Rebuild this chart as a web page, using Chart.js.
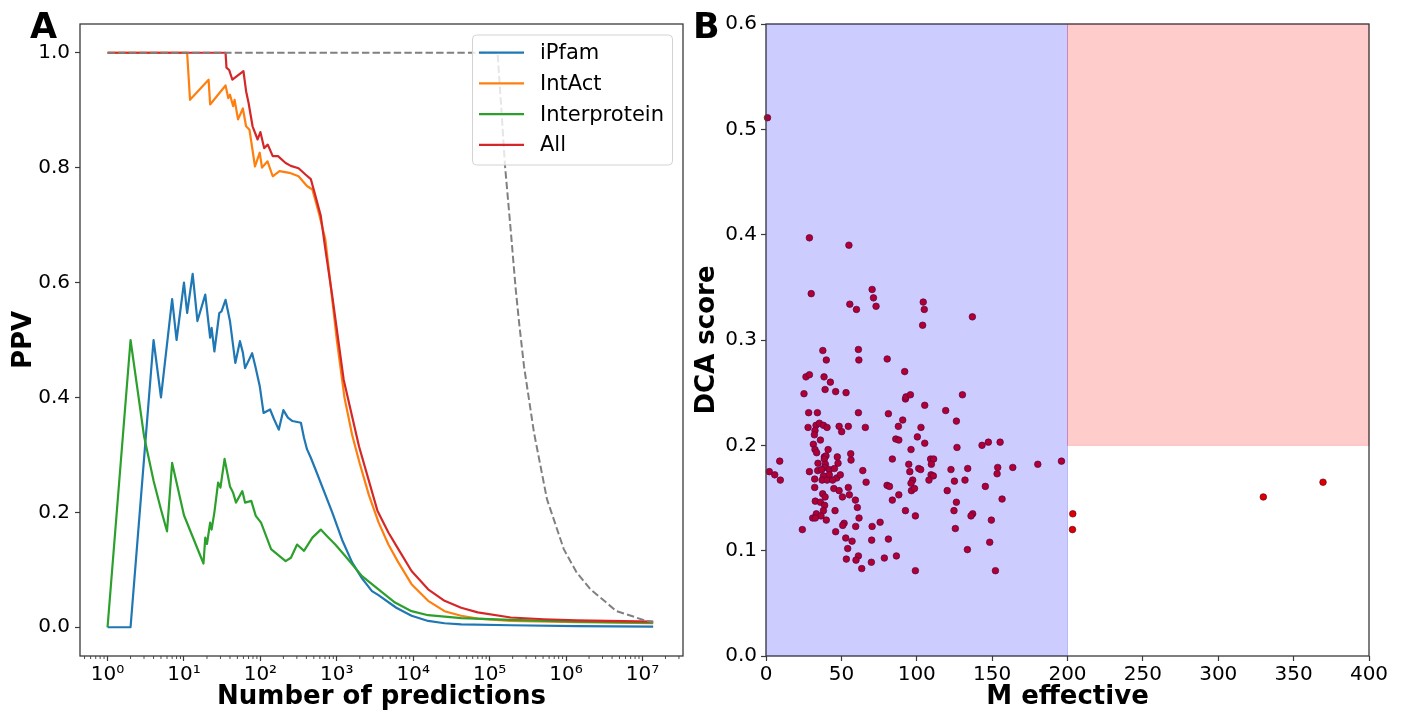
<!DOCTYPE html>
<html>
<head>
<meta charset="utf-8">
<script src="https://cdn.jsdelivr.net/npm/chart.js@4.4.1/dist/chart.umd.min.js"></script>
<style>
  html, body { margin: 0; padding: 0; background: #fff; }
  body { width: 1405px; height: 713px; position: relative; overflow: hidden; }
  #ppv { position: absolute; left: 0; top: 0; }
  #dca { position: absolute; left: 660px; top: 0; }
</style>
</head>
<body>
<canvas id="ppv" width="700" height="713"></canvas>
<canvas id="dca" width="745" height="713"></canvas>
<script>
/* ---------- panel A data: PPV vs number of predictions ---------- */
const seriesLabels = ["iPfam", "IntAct", "Interprotein", "All"];
const seriesColors = ["#1f77b4", "#ff7f0e", "#2ca02c", "#d62728"];

const ipfamN   = [1, 2, 4, 5, 7, 8, 10, 11, 13, 15, 19, 22, 23, 25, 29, 31, 35, 40, 47, 54,
                  59, 63, 78, 86, 98, 110, 134, 151, 174, 200, 229, 263, 339, 372, 407, 457, 525, 871, 1175, 1585,
                  2138, 2884, 3508, 6000, 9506, 15670, 25700, 42400, 189000, 1380000, 13800000];
const ipfamPPV = [0, 0, 0.50, 0.40, 0.571, 0.50, 0.60, 0.547, 0.615, 0.533, 0.579, 0.504, 0.521, 0.48, 0.547, 0.55, 0.57, 0.533, 0.46, 0.498,
                  0.478, 0.451, 0.477, 0.454, 0.42, 0.373, 0.379, 0.362, 0.344, 0.378, 0.365, 0.359, 0.356, 0.33, 0.31, 0.295, 0.275, 0.20, 0.152, 0.113,
                  0.085, 0.063, 0.056, 0.034, 0.02, 0.011, 0.007, 0.005, 0.0035, 0.002, 0.001];

const intactN   = [1, 11, 12, 21, 22, 35, 38, 40, 44, 46, 51, 59, 65, 72, 85, 98, 105, 124, 145, 178,
                   240, 316, 407, 479, 582, 708, 832, 1000, 1259, 1585, 1995, 2630, 3508, 4732, 6383, 9506, 15670, 25700, 42400, 69800,
                   189000, 1380000, 13800000];
const intactPPV = [1.0, 1.0, 0.918, 0.953, 0.91, 0.943, 0.921, 0.927, 0.907, 0.918, 0.884, 0.903, 0.872, 0.866, 0.802, 0.826, 0.80, 0.811, 0.785, 0.794,
                   0.791, 0.785, 0.768, 0.762, 0.721, 0.675, 0.594, 0.50, 0.40, 0.335, 0.285, 0.23, 0.183, 0.144, 0.113, 0.075, 0.046, 0.028, 0.02, 0.015,
                   0.011, 0.009, 0.007];

const interN   = [1, 2, 3, 4, 5, 6, 7, 10, 18, 19, 20, 22, 23, 25, 28, 30, 34, 40, 44, 48,
                  58, 63, 76, 87, 102, 138, 178, 214, 251, 302, 372, 479, 617, 741, 955, 1288, 2138, 3508, 5780, 9506,
                  15670, 42400, 189000, 1380000, 13800000];
const interPPV = [0, 0.50, 0.333, 0.255, 0.205, 0.167, 0.286, 0.195, 0.111, 0.156, 0.145, 0.182, 0.17, 0.20, 0.252, 0.243, 0.293, 0.245, 0.234, 0.217,
                  0.237, 0.217, 0.22, 0.194, 0.182, 0.136, 0.124, 0.115, 0.121, 0.144, 0.133, 0.156, 0.17, 0.159, 0.144, 0.124, 0.089, 0.066, 0.043, 0.028,
                  0.021, 0.016, 0.013, 0.010, 0.008];

const allN   = [1, 35, 36, 39, 43, 60, 65, 70, 79, 92, 100, 112, 125, 145, 170, 214, 250, 316, 389, 457,
                525, 617, 708, 871, 1230, 1950, 3400, 4732, 6383, 9506, 15670, 25700, 42400, 69800, 189000, 513000, 1380000, 13800000];
const allPPV = [1.0, 1.0, 0.974, 0.97, 0.953, 0.968, 0.933, 0.913, 0.872, 0.849, 0.862, 0.834, 0.84, 0.82, 0.82, 0.808, 0.803, 0.799, 0.788, 0.78,
                0.751, 0.716, 0.658, 0.577, 0.431, 0.315, 0.203, 0.165, 0.136, 0.098, 0.066, 0.046, 0.034, 0.026, 0.017, 0.014, 0.012, 0.010];

// grey dashed reference curve
const randomN   = [1, 127000, 141000, 158500, 189000, 218800, 243000, 281800, 380200, 562300, 933300, 1380000, 2090000, 3160000,
                   4570000, 7080000, 11200000, 13800000];
const randomPPV = [1.0, 1.0, 0.91, 0.805, 0.69, 0.59, 0.53, 0.454, 0.339, 0.223, 0.136, 0.095, 0.066, 0.046,
                   0.028, 0.02, 0.011, 0.009];

const ppvTicks = [0.0, 0.2, 0.4, 0.6, 0.8, 1.0];
const predExponents = [0, 1, 2, 3, 4, 5, 6, 7];

/* ---------- panel B data: DCA score vs M effective ---------- */
const mEff = [
  1, 28.8, 55, 30, 70.4, 71.3, 73, 55.6, 60, 104.3, 105, 103.9, 136.9, 37.7, 40, 61.3, 61.6, 80.4,
  26.5, 28.8, 38.5, 42.7, 25.2, 39.2, 46.2, 53.1, 92, 92.5, 92.9, 95.8, 28.3, 34.1, 61.3, 81.2, 90.7, 33.2, 35.4, 38.1,
  40.5, 27.9, 32.5, 32.1, 48.5, 50.2, 54.6, 65.9, 87.8, 86.1, 88.1, 36.1, 31.4, 32.5, 33.6, 41.2, 56.2, 47.3, 38.7, 39.8,
  38.7, 39.4, 56.4, 47.8, 34.5, 9.1, 96.2, 83.8, 94.7, 38.9, 42, 45.4, 28.8, 34.3, 36.9, 2.2, 5.8, 9.5, 38.1, 42,
  46.9, 49.3, 32.3, 37.2, 40.5, 44.2, 64.2, 66.4, 95.4, 97.3, 96.2, 32.3, 54.6, 80.3, 81.9,
  45, 48.5, 96.5, 98.5,
  37.6, 39.2, 50.7, 55.3, 59.3, 32.7, 36.1, 38.9, 38.1, 60.6, 45.8, 33.4, 36.5, 31, 32.7, 40, 61.7, 51.8, 50.9, 59.5,
  70.4, 75.7, 24.1, 46.2, 52.9, 57.1, 70.1, 81.2, 54.2, 61.3, 53.3, 59.7, 69.9, 78.5, 86.5, 63.5, 83.8, 88.1, 92.5, 99.1, 99.1,
  130.3, 105.3, 119.2, 126.3, 102.8, 100.4, 105.3, 126.7, 143.3, 147.5, 155.3, 109.2, 111.2, 109.7, 101.3, 102.6, 122.7, 133.8, 153.7, 163.7,
  180.3, 109.5, 111, 108.1, 125, 132, 153.3, 145.5, 120.2,
  126.3, 156.6, 124.7, 137.1, 136, 149.5, 125.6, 148.4, 133.6, 152.2,
  196, 203.5, 203.3, 329.9, 369.5
];
const dcaScore = [
  0.511, 0.397, 0.39, 0.344, 0.348, 0.34, 0.332, 0.334, 0.329, 0.336, 0.329, 0.314, 0.322, 0.29, 0.281, 0.291, 0.281, 0.282,
  0.265, 0.267, 0.265, 0.26, 0.249, 0.253, 0.251, 0.25, 0.27, 0.244, 0.246, 0.248, 0.231, 0.231, 0.231, 0.23, 0.224, 0.219, 0.221, 0.219,
  0.217, 0.217, 0.214, 0.21, 0.218, 0.213, 0.218, 0.217, 0.218, 0.206, 0.205, 0.205, 0.201, 0.196, 0.193, 0.196, 0.192, 0.189, 0.189, 0.19,
  0.187, 0.182, 0.186, 0.183, 0.183, 0.185, 0.196, 0.187, 0.182, 0.179, 0.177, 0.178, 0.175, 0.176, 0.177, 0.175, 0.172, 0.167, 0.171, 0.172,
  0.169, 0.172, 0.168, 0.167, 0.167, 0.167, 0.176, 0.165, 0.175, 0.167, 0.164, 0.16, 0.16, 0.162, 0.161,
  0.159, 0.157, 0.157, 0.159,
  0.154, 0.151, 0.151, 0.153, 0.148, 0.147, 0.146, 0.143, 0.138, 0.141, 0.138, 0.135, 0.133, 0.131, 0.131, 0.129, 0.131, 0.126, 0.124, 0.123,
  0.123, 0.127, 0.12, 0.118, 0.112, 0.109, 0.11, 0.111, 0.102, 0.095, 0.092, 0.091, 0.089, 0.093, 0.095, 0.083, 0.148, 0.153, 0.138, 0.133, 0.081,
  0.248, 0.238, 0.233, 0.223, 0.217, 0.208, 0.202, 0.198, 0.2, 0.203, 0.203, 0.187, 0.187, 0.182, 0.178, 0.177, 0.177, 0.178, 0.179, 0.179,
  0.182, 0.172, 0.171, 0.167, 0.166, 0.167, 0.173, 0.161, 0.157,
  0.146, 0.149, 0.138, 0.135, 0.133, 0.129, 0.121, 0.108, 0.101, 0.081,
  0.185, 0.135, 0.12, 0.151, 0.165
];
const mEffTicks = [0, 50, 100, 150, 200, 250, 300, 350, 400];
const dcaTicks  = [0.0, 0.1, 0.2, 0.3, 0.4, 0.5, 0.6];
// shaded regions: [xFrom, xTo, yFrom, yTo]
const blueSpan = [0, 200, 0, 0.6];
const redSpan  = [200, 400, 0.2, 0.6];

/* ---------- shared style ---------- */
const FONT = "'DejaVu Sans'";
const axisColor = "#3a3a3a";
Chart.defaults.font.family = FONT;
Chart.defaults.color = "#000";

const SUP = { "0": "\u2070", "1": "\u00b9", "2": "\u00b2", "3": "\u00b3", "4": "\u2074",
              "5": "\u2075", "6": "\u2076", "7": "\u2077", "8": "\u2078", "9": "\u2079" };

function toPoints(xs, ys) {
  return xs.map((x, i) => ({ x: x, y: ys[i] }));
}

/* ---------- plugins ---------- */
const framePlugin = {
  id: "frame",
  afterDraw(chart) {
    const a = chart.chartArea, ctx = chart.ctx;
    ctx.save();
    ctx.strokeStyle = axisColor;
    ctx.lineWidth = 1.3;
    ctx.strokeRect(a.left, a.top, a.right - a.left, a.bottom - a.top);
    ctx.restore();
  }
};

const minorTickPlugin = {
  id: "minorTicks",
  afterDraw(chart) {
    const sx = chart.scales.x, ctx = chart.ctx, bottom = chart.chartArea.bottom;
    ctx.save();
    ctx.strokeStyle = axisColor;
    ctx.lineWidth = 0.9;
    sx.ticks.forEach(t => {
      if (t.major) return;
      const px = sx.getPixelForValue(t.value);
      ctx.beginPath();
      ctx.moveTo(px, bottom);
      ctx.lineTo(px, bottom + 3);
      ctx.stroke();
    });
    ctx.restore();
  }
};

function panelLetter(letter, x, y) {
  return {
    id: "letter" + letter,
    afterDraw(chart) {
      const ctx = chart.ctx;
      ctx.save();
      ctx.font = "bold 35px " + FONT;
      ctx.fillStyle = "#000";
      ctx.textBaseline = "alphabetic";
      ctx.fillText(letter, x, y);
      ctx.restore();
    }
  };
}

const legendPlugin = {
  id: "boxLegend",
  afterDraw(chart) {
    const ctx = chart.ctx;
    const bx = 472.5, by = 35, bw = 200, bh = 130;
    ctx.save();
    ctx.beginPath();
    ctx.roundRect(bx, by, bw, bh, 4);
    ctx.fillStyle = "rgba(255,255,255,0.8)";
    ctx.fill();
    ctx.strokeStyle = "#d3d3d3";
    ctx.lineWidth = 1;
    ctx.stroke();
    ctx.font = "21px " + FONT;
    ctx.textBaseline = "middle";
    ctx.fillStyle = "#000";
    seriesLabels.forEach((lab, i) => {
      const yy = 52.7 + i * 30.7;
      ctx.strokeStyle = seriesColors[i];
      ctx.lineWidth = 2.2;
      ctx.beginPath();
      ctx.moveTo(479, yy);
      ctx.lineTo(524, yy);
      ctx.stroke();
      ctx.fillText(lab, 540, yy + 1);
    });
    ctx.restore();
  }
};

const spanPlugin = {
  id: "spans",
  afterDatasetsDraw(chart) {
    const sx = chart.scales.x, sy = chart.scales.y, ctx = chart.ctx;
    const draw = (s, fill, edge) => {
      const x0 = sx.getPixelForValue(s[0]), x1 = sx.getPixelForValue(s[1]);
      const y0 = sy.getPixelForValue(s[3]), y1 = sy.getPixelForValue(s[2]);
      ctx.fillStyle = fill;
      ctx.fillRect(x0, y0, x1 - x0, y1 - y0);
      ctx.strokeStyle = edge;
      ctx.lineWidth = 1;
      ctx.strokeRect(x0, y0, x1 - x0, y1 - y0);
    };
    ctx.save();
    draw(blueSpan, "rgba(0,0,255,0.2)", "rgba(0,0,255,0.2)");
    draw(redSpan, "rgba(255,0,0,0.2)", "rgba(255,0,0,0.2)");
    ctx.restore();
  }
};

/* ---------- panel A ---------- */
function lineSet(label, xs, ys, color, order) {
  return {
    label: label,
    data: toPoints(xs, ys),
    borderColor: color,
    borderWidth: 2.2,
    pointRadius: 0,
    tension: 0,
    fill: false,
    borderJoinStyle: "round",
    order: order
  };
}

new Chart(document.getElementById("ppv"), {
  type: "line",
  data: {
    datasets: [
      Object.assign(lineSet("random", randomN, randomPPV, "#808080", 0), { borderDash: [7.4, 3.2], borderWidth: 2 }),
      lineSet(seriesLabels[0], ipfamN, ipfamPPV, seriesColors[0], 4),
      lineSet(seriesLabels[1], intactN, intactPPV, seriesColors[1], 3),
      lineSet(seriesLabels[2], interN, interPPV, seriesColors[2], 2),
      lineSet(seriesLabels[3], allN, allPPV, seriesColors[3], 1)
    ]
  },
  options: {
    responsive: false,
    animation: false,
    layout: { padding: { top: 24, right: 17, left: 0, bottom: 0 } },
    plugins: { legend: { display: false }, tooltip: { enabled: false } },
    scales: {
      x: {
        type: "logarithmic",
        min: 0.436,
        max: 3.39e7,
        afterFit: s => { s.height = 57; },
        afterBuildTicks: s => {
          const ticks = [];
          for (let e = -1; e <= 7; e++) {
            for (let k = 1; k <= 9; k++) {
              const v = k * Math.pow(10, e);
              if (v >= 0.436 && v <= 3.39e7) ticks.push({ value: v, major: k === 1 && predExponents.includes(e) });
            }
          }
          s.ticks = ticks;
        },
        ticks: {
          autoSkip: false,
          maxRotation: 0,
          padding: 2,
          font: { size: 20 },
          color: "#000",
          callback: function (value, i, ticks) {
            if (!ticks[i].major) return "";
            const e = Math.round(Math.log10(value));
            return "10" + String(e).split("").map(c => SUP[c]).join("");
          }
        },
        grid: {
          drawOnChartArea: false,
          tickLength: 5,
          tickWidth: 1.2,
          tickColor: ctx => (ctx.tick && ctx.tick.major ? axisColor : "rgba(0,0,0,0)")
        },
        border: { display: false },
        title: { display: true, text: "Number of predictions", font: { size: 26, weight: "bold" }, padding: { top: 0, bottom: 0 }, color: "#000" }
      },
      y: {
        min: -0.05,
        max: 1.05,
        afterFit: s => { s.width = 80; },
        afterBuildTicks: s => { s.ticks = ppvTicks.map(v => ({ value: v })); },
        ticks: { padding: 5, font: { size: 20 }, color: "#000", callback: v => Number(v).toFixed(1) },
        grid: { drawOnChartArea: false, tickLength: 5, tickWidth: 1.2, tickColor: axisColor },
        border: { display: false },
        title: { display: true, text: "PPV", font: { size: 26, weight: "bold" }, padding: { top: 9, bottom: 0 }, color: "#000" }
      }
    }
  },
  plugins: [framePlugin, minorTickPlugin, legendPlugin, panelLetter("A", 30, 38)]
});

/* ---------- panel B ---------- */
new Chart(document.getElementById("dca"), {
  type: "scatter",
  data: {
    datasets: [{
      label: "DCA",
      data: toPoints(mEff, dcaScore),
      backgroundColor: "rgb(220,0,0)",
      borderColor: "#6e0018",
      borderWidth: 0.7,
      pointRadius: 3.3,
      clip: false
    }]
  },
  options: {
    responsive: false,
    animation: false,
    layout: { padding: { top: 24, right: 36, left: 0, bottom: 0 } },
    plugins: { legend: { display: false }, tooltip: { enabled: false } },
    scales: {
      x: {
        type: "linear",
        min: 0,
        max: 400,
        afterFit: s => { s.height = 57; },
        afterBuildTicks: s => { s.ticks = mEffTicks.map(v => ({ value: v })); },
        ticks: { autoSkip: false, maxRotation: 0, padding: 2, font: { size: 20 }, color: "#000" },
        grid: { drawOnChartArea: false, tickLength: 5, tickWidth: 1.2, tickColor: axisColor },
        border: { display: false },
        title: { display: true, text: "M effective", font: { size: 26, weight: "bold" }, padding: { top: 0, bottom: 0 }, color: "#000" }
      },
      y: {
        min: 0,
        max: 0.6,
        afterFit: s => { s.width = 106; },
        afterBuildTicks: s => { s.ticks = dcaTicks.map(v => ({ value: v })); },
        ticks: { padding: 4, font: { size: 20 }, color: "#000", callback: v => Number(v).toFixed(1) },
        grid: { drawOnChartArea: false, tickLength: 5, tickWidth: 1.2, tickColor: axisColor },
        border: { display: false },
        title: { display: true, text: "DCA score", font: { size: 26, weight: "bold" }, padding: { top: 32, bottom: 0 }, color: "#000" }
      }
    }
  },
  plugins: [spanPlugin, framePlugin, panelLetter("B", 33, 38)]
});
</script>
</body>
</html>
